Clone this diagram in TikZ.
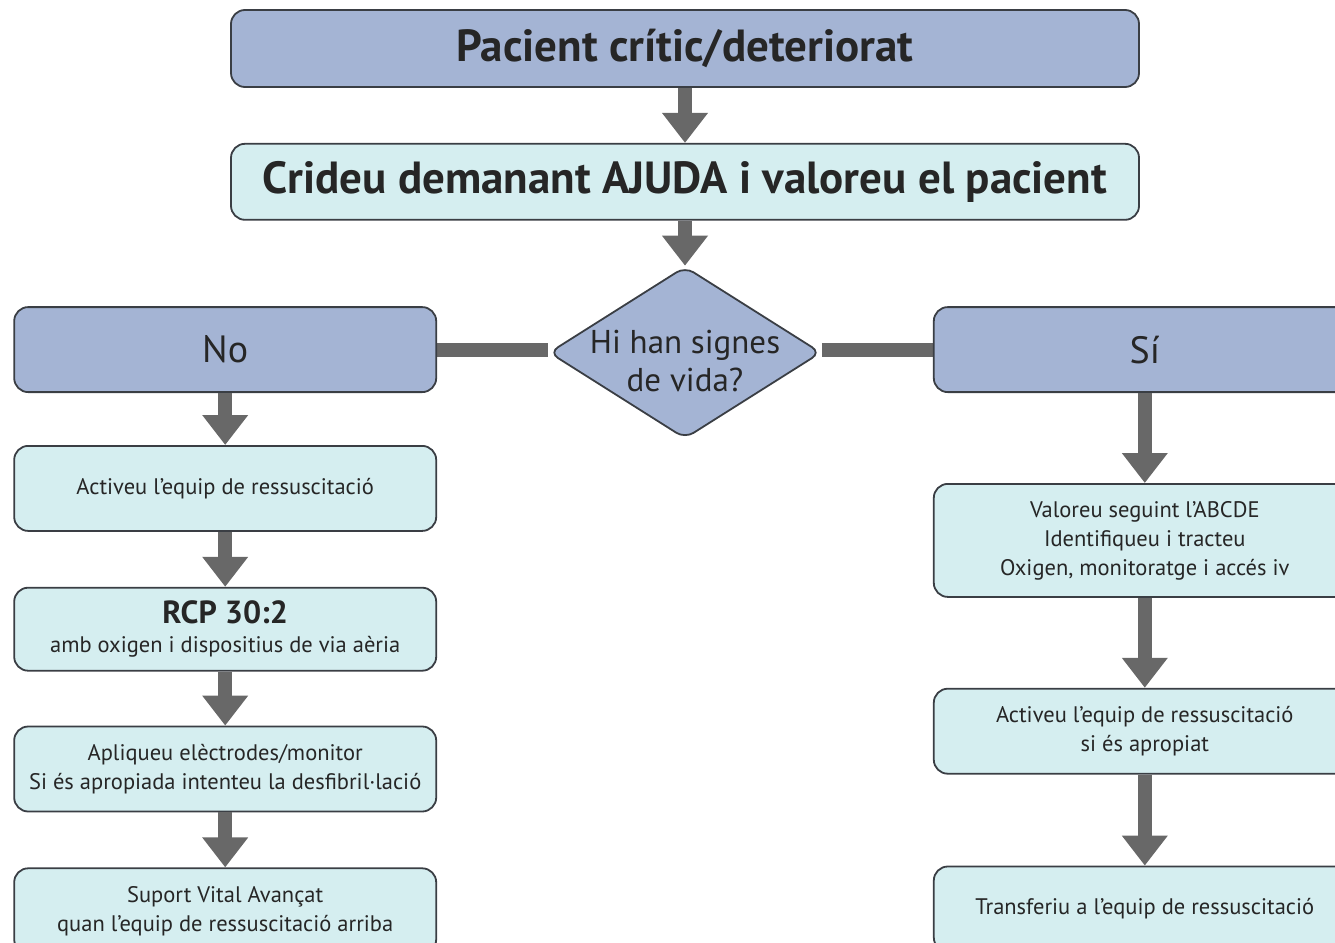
\documentclass[tikz,border=0pt]{standalone}
\usepackage{fontspec}
\setmainfont{PT Sans}
\usepackage{tikz}
\usetikzlibrary{positioning,arrows.meta,shapes.geometric,backgrounds}

\definecolor{headblue}{RGB}{164,180,212}
\definecolor{stepcyan}{RGB}{213,238,240}
\definecolor{edgegray}{RGB}{58,62,68}
\definecolor{arrowgray}{RGB}{104,104,104}

\begin{document}
\begin{tikzpicture}[x=1pt, y=1pt, align=center, text=black!85,
    header/.style={draw=edgegray, line width=1.8pt, fill=headblue, rounded corners=14pt, minimum width=908pt, inner sep=0pt},
    action/.style={draw=edgegray, line width=1.8pt, fill=stepcyan, rounded corners=14pt, minimum width=422pt, minimum height=85pt, inner sep=0pt, font=\fontsize{22.5}{29}\selectfont},
    flow/.style={arrowgray, line width=14pt, -{Triangle[width=44pt, length=30pt]}},
    link/.style={arrowgray, line width=14pt}]

    \useasboundingbox (0,0) rectangle (1335,-942);
    \clip (0,0) rectangle (1335,-942);

    \node [header, minimum height=77pt, font=\fontsize{45}{50}\selectfont\bfseries] (critical) at (685,-48.5) {Pacient crític/deteriorat};

    \node [header, fill=stepcyan, minimum height=76pt, below=55pt of critical, font=\fontsize{45}{50}\selectfont\bfseries] (call_help) {Crideu demanant AJUDA i valoreu el pacient};

    \node [diamond, draw=edgegray, line width=1.8pt, fill=headblue, rounded corners=10pt, minimum width=272pt, minimum height=172pt, inner sep=0pt, below=45pt of call_help] (signs) {};
    \node [font=\fontsize{33}{38}\selectfont, yshift=-8pt] (signs_text) at (signs) {Hi han signes\\de vida?};

    \node [header, minimum width=422pt, minimum height=85pt, left=111pt of signs, yshift=3pt, font=\fontsize{38}{42}\selectfont] (no_branch) {No};
    \node [header, minimum width=422pt, minimum height=85pt, right=111pt of signs, yshift=3pt, font=\fontsize{38}{42}\selectfont] (yes_branch) {Sí};

    % No
    \node [action, below=52pt of no_branch] (no_team) {Activeu l’equip de ressuscitació};
    \node [action, minimum height=83pt, below=55pt of no_team] (no_cpr) {{\fontsize{32}{34}\selectfont\bfseries RCP 30:2}\\amb oxigen i dispositius de via aèria};
    \node [action, below=54pt of no_cpr] (no_pads) {Apliqueu elèctrodes/monitor\\Si és apropiada intenteu la desfibril·lació};
    \node [action, below=55pt of no_pads] (no_als) {Suport Vital Avançat\\quan l’equip de ressuscitació arriba};

    % Sí
    \node [action, minimum height=113pt, below=90pt of yes_branch] (yes_abcde) {Valoreu seguint l’ABCDE\\Identifiqueu i tracteu\\Oxigen, monitoratge i accés iv};
    \node [action, below=90pt of yes_abcde] (yes_team) {Activeu l’equip de ressuscitació\\si és apropiat};
    \node [action, below=91pt of yes_team] (yes_handover) {Transferiu a l’equip de ressuscitació};

    \draw[flow] (critical) -- (call_help);
    \draw[flow] (call_help) -- (signs);
    \draw[flow] (no_branch) -- (no_team);
    \draw[flow] (no_team) -- (no_cpr);
    \draw[flow] (no_cpr) -- (no_pads);
    \draw[flow] (no_pads) -- (no_als);
    \draw[flow] (yes_branch) -- (yes_abcde);
    \draw[flow] (yes_abcde) -- (yes_team);
    \draw[flow] (yes_team) -- (yes_handover);

    \begin{scope}[on background layer]
        \draw[link] (no_branch.east) -- (no_branch.east -| signs.west);
        \draw[link] (yes_branch.west -| signs.east) -- (yes_branch.west);
    \end{scope}

\end{tikzpicture}
\end{document}
